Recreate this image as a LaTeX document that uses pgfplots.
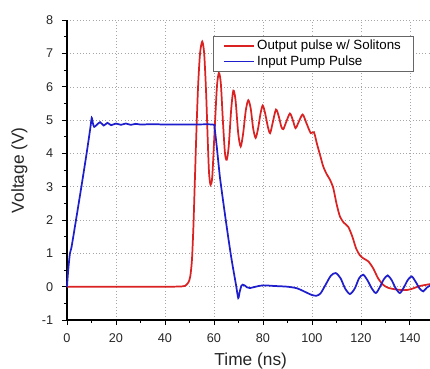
\documentclass[border=0pt]{standalone}
\usepackage{fontspec}
\setmainfont{Liberation Sans}
\usepackage{pgfplots}
\pgfplotsset{compat=1.18}
\definecolor{myred}{RGB}{218,34,34}
\definecolor{myblue}{RGB}{30,30,205}
\begin{document}
\begin{tikzpicture}
\begin{axis}[
  scale only axis,
  width=275.6pt, height=224.8pt,
  xmin=0, xmax=150, ymin=-1, ymax=8,
  axis x line*=bottom, axis y line*=left,
  axis line style={-, line width=0.8pt},
  xtick={0,20,...,140}, ytick={-1,0,...,8},
  minor x tick num=1, minor y tick num=1,
  tick align=outside,
  major tick length=3.8pt, minor tick length=2.4pt,
  tick style={line width=0.7pt, black},
  grid=major,
  major grid style={dotted, gray!70, line width=0.5pt},
  /pgf/number format/assume math mode=true,
  ticklabel style={font=\fontsize{9.5}{11}\selectfont, text=black!85},
  xticklabel shift=3pt, yticklabel shift=3pt,
  xlabel={Time (ns)}, ylabel={Voltage (V)},
  label style={font=\fontsize{13}{15}\selectfont, text=black!85},
  xlabel style={yshift=-1pt},
  ylabel style={yshift=4pt},
  legend style={at={(axis cs:59.6,7.54)}, anchor=north west,
    draw=gray!80!black, line width=0.6pt, font=\fontsize{10}{12}\selectfont,
    inner xsep=7pt, inner ysep=1pt, row sep=-1pt,
    nodes={inner xsep=2pt, anchor=west}},
  legend cell align=left,
  legend image code/.code={\draw[#1, line width=1.3pt] (0pt,0pt) -- (22.5pt,0pt);},
  clip=false,
]
\addplot[myred, line width=1.3pt, smooth, tension=0.45] coordinates {
(0,0) (40,0) (47,0.01) (48.5,0.04) (49.5,0.12) (50.3,0.3) (51,0.8) (51.6,1.8) (52.2,3.2) (52.8,4.6) (53.5,6.0) (54.3,7.0) (55.2,7.36) (56.0,7.0) (56.8,5.8) (57.5,4.3) (58.0,3.4) (58.6,3.06) (59.3,3.3) (60.2,4.6) (61.2,6.0) (62.0,6.42) (62.8,6.1) (63.7,4.9) (64.5,4.0) (65.2,3.81) (66.0,4.2) (67.0,5.3) (67.9,5.89) (68.8,5.6) (69.9,4.6) (70.9,4.21) (71.9,4.6) (73.0,5.3) (74.0,5.6) (75.0,5.35) (76.0,4.75) (77.0,4.47) (78.0,4.75) (79.0,5.2) (79.9,5.44) (80.9,5.2) (82.0,4.8) (82.9,4.61) (83.9,4.9) (85.3,5.32) (86.5,5.1) (87.5,4.8) (88.3,4.73) (89.5,4.95) (91.0,5.2) (92.2,5.0) (93.3,4.76) (94.6,4.95) (96.2,5.17) (97.8,4.9) (99.5,4.61) (100.8,4.64) (102,4.3) (103.5,3.9) (104.6,3.61) (106,3.38) (107.3,3.22) (108.7,2.96) (110,2.5) (111.4,2.11) (113,1.92) (114.8,1.8) (116.5,1.5) (118,1.15) (119.5,0.95) (121,0.85) (123,0.76) (125,0.55) (127,0.25) (129,0.06) (131,-0.03) (134,-0.08) (136.5,-0.1) (138.7,-0.1) (141,-0.06) (144,0.02) (150,0.1)
};
\addlegendentry{Output pulse w/ Solitons}
\addplot[myblue, line width=1.3pt, smooth, tension=0.45] coordinates {
(0,0) (0.5,0.5) (1.2,1.0) (1.9,1.21) (4,2.15) (6,3.06) (8,4.0) (9.5,4.75) (10.1,5.07) (10.6,4.9) (11.1,4.8) (12,4.85) (13.5,4.94) (15,4.84) (16.5,4.92) (18,4.85) (20,4.9) (22,4.86) (24,4.9) (26,4.86) (28,4.89) (30,4.87) (35,4.88) (40,4.87) (50,4.87) (59.6,4.87) (60.2,4.78) (61,4.3) (62.4,3.3) (63.1,2.91) (65,1.9) (67,0.9) (69,0.05) (69.9,-0.34) (70.5,-0.15) (71.2,0.03) (71.7,0.06) (72.5,0.04) (73.5,-0.02) (74.7,-0.04) (77,0.0) (80,0.04) (85,0.02) (90,0.0) (94,-0.05) (97,-0.15) (100,-0.25) (101.9,-0.27) (103.5,-0.2) (105.5,0.05) (107.7,0.33) (109.7,0.41) (111.7,0.25) (113.5,-0.05) (115.5,-0.22) (117.5,-0.05) (119.2,0.25) (120.9,0.36) (122.6,0.2) (124.4,-0.05) (126.1,-0.19) (127.8,0.0) (129.3,0.22) (130.9,0.34) (132.5,0.2) (134.2,-0.05) (135.9,-0.19) (137.5,-0.02) (139.1,0.2) (140.7,0.31) (142.3,0.15) (143.9,-0.05) (145.4,-0.14) (147,-0.02) (150,0.1)
};
\addlegendentry{Input Pump Pulse}
\end{axis}
\pgfresetboundingbox
\path[use as bounding box] (current axis.south west) ++(-50.25pt,-36.75pt) rectangle ++(322.5pt,276.75pt);
\end{tikzpicture}
\end{document}
